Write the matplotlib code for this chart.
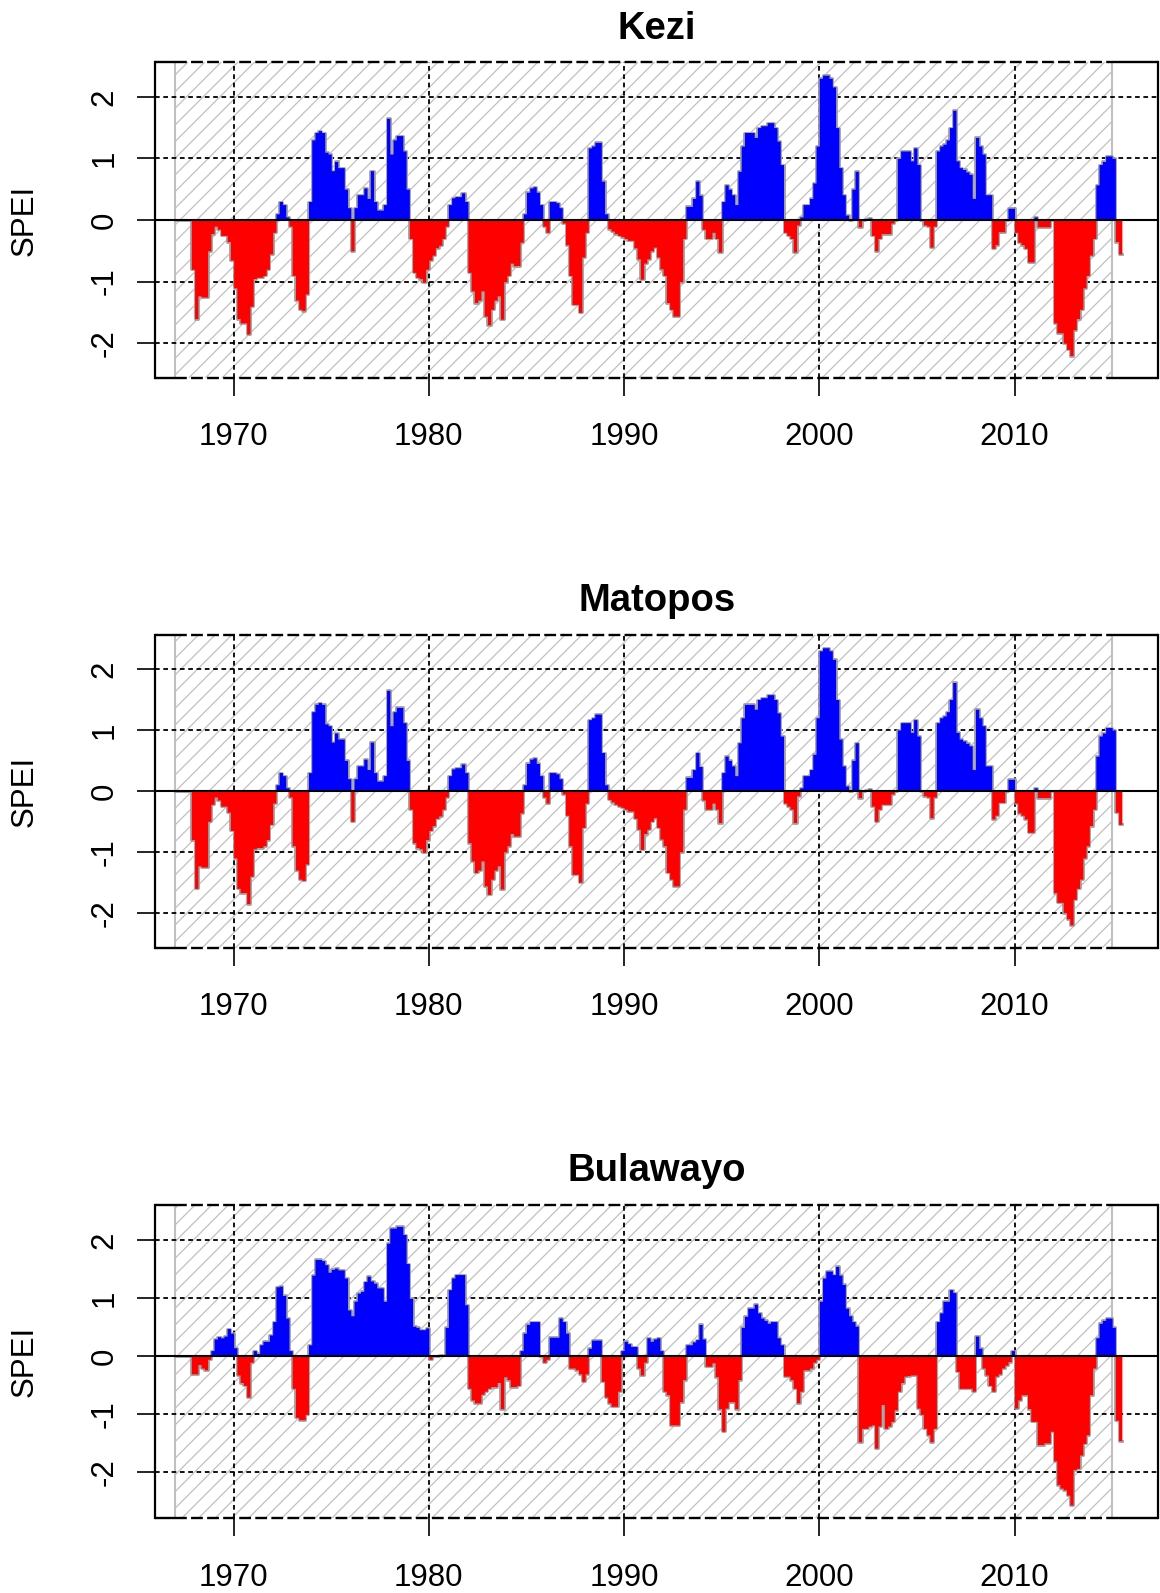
import numpy as np
import matplotlib
matplotlib.use('Agg')
import matplotlib.pyplot as plt
from matplotlib.patches import Rectangle

plt.rcParams['font.family'] = ['Liberation Sans', 'DejaVu Sans']
plt.rcParams['axes.unicode_minus'] = False
plt.rcParams['hatch.linewidth'] = 0.9

# SPEI, two-month steps starting Jan 1967
start_year = 1967
steps_per_year = 6
ref_period = (1967, 2015)

kezi = [
    0, 0, 0, 0, 0, -0.8,                            # 1967
    -1.6, -1.23, -1.25, -1.25, -0.5, -0.22,         # 1968
    -0.1, -0.15, -0.25, -0.25, -0.35, -0.65,        # 1969
    -1.1, -1.6, -1.67, -1.67, -1.85, -1.4,          # 1970
    -0.95, -0.93, -0.93, -0.9, -0.8, -0.55,         # 1971
    -0.2, 0.1, 0.3, 0.25, 0.05, -0.1,               # 1972
    -0.9, -1.3, -1.45, -1.47, -1.2, 0.3,            # 1973
    1.3, 1.42, 1.45, 1.42, 1.1, 1.07,               # 1974
    0.8, 0.95, 0.85, 0.85, 0.5, 0.2,                # 1975
    -0.5, 0.2, 0.41, 0.41, 0.52, 0.35,              # 1976
    0.8, 0.3, 0.16, 0.16, 0.25, 1.65,               # 1977
    1.07, 1.3, 1.37, 1.37, 1.12, 0.5,               # 1978
    -0.3, -0.85, -0.93, -0.95, -1.01, -0.8,         # 1979
    -0.65, -0.57, -0.45, -0.41, -0.3, -0.1,         # 1980
    0.25, 0.36, 0.38, 0.38, 0.44, 0.3,              # 1981
    -0.85, -1.15, -1.34, -1.3, -1.15, -1.56,        # 1982
    -1.7, -1.45, -1.3, -1.23, -1.61, -1.0,          # 1983
    -0.9, -0.7, -0.74, -0.74, -0.36, 0.1,           # 1984
    0.45, 0.52, 0.54, 0.45, 0.25, -0.1,             # 1985
    -0.2, 0.3, 0.3, 0.28, 0.2, -0.05,               # 1986
    -0.4, -0.9, -1.37, -1.37, -1.5, -0.6,           # 1987
    -0.2, 1.17, 1.2, 1.26, 1.26, 0.63,              # 1988
    0.1, -0.14, -0.18, -0.22, -0.25, -0.27,         # 1989
    -0.3, -0.33, -0.33, -0.45, -0.63, -0.96,        # 1990
    -0.7, -0.63, -0.5, -0.44, -0.6, -0.79,          # 1991
    -0.9, -1.34, -1.45, -1.56, -1.56, -1.0,         # 1992
    -0.3, 0.22, 0.22, 0.35, 0.63, 0.4,              # 1993
    -0.15, -0.3, -0.3, -0.2, -0.3, -0.52,           # 1994
    0.3, 0.57, 0.5, 0.41, 0.25, 0.79,               # 1995
    1.2, 1.42, 1.42, 1.42, 1.34, 1.5,               # 1996
    1.53, 1.53, 1.58, 1.58, 1.5, 1.28,              # 1997
    0.9, -0.2, -0.25, -0.3, -0.52, -0.08,           # 1998
    0.05, 0.25, 0.25, 0.35, 0.6, 1.2,               # 1999
    2.3, 2.35, 2.35, 2.3, 2.16, 1.5,                # 2000
    0.85, 0.41, 0.08, 0.0, 0.5, 0.79,               # 2001
    -0.11, 0.0, 0.02, 0.03, -0.25, -0.5,            # 2002
    -0.3, -0.22, -0.22, -0.22, -0.05, 0.0,          # 2003
    1.0, 1.12, 1.12, 1.12, 0.96, 1.17,              # 2004
    0.9, 0.0, -0.08, -0.1, -0.44, -0.1,             # 2005
    1.12, 1.2, 1.23, 1.3, 1.5, 1.78,                # 2006
    0.96, 0.85, 0.82, 0.78, 0.74, 0.35,             # 2007
    1.34, 1.2, 1.07, 0.41, 0.41, -0.46,             # 2008
    -0.4, -0.19, -0.19, 0.0, 0.19, 0.19,            # 2009
    -0.2, -0.36, -0.4, -0.46, -0.68, -0.68,         # 2010
    0.05, -0.11, -0.11, -0.11, -0.11, 0.0,          # 2011
    -1.67, -1.83, -1.83, -2.0, -2.1, -2.2,          # 2012
    -1.78, -1.6, -1.45, -1.1, -0.9, -0.57,          # 2013
    -0.3, 0.57, 0.9, 0.95, 1.04, 1.04,              # 2014
    1.0, -0.35, -0.55,                              # 2015
]

# Matopos panel reads the same as Kezi
matopos = list(kezi)

bulawayo = [
    0, 0, 0, 0, 0, -0.3,                            # 1967
    -0.3, -0.14, -0.2, -0.23, -0.05, 0.1,           # 1968
    0.3, 0.34, 0.32, 0.35, 0.48, 0.4,               # 1969
    0.15, -0.32, -0.45, -0.5, -0.7, -0.1,           # 1970
    0.1, 0.05, 0.2, 0.26, 0.26, 0.37,               # 1971
    0.6, 1.2, 1.21, 1.05, 0.66, 0.1,                # 1972
    -0.55, -1.05, -1.09, -1.09, -1.0, 0.2,          # 1973
    1.4, 1.67, 1.67, 1.65, 1.58, 1.45,              # 1974
    1.5, 1.52, 1.49, 1.49, 1.35, 0.8,               # 1975
    0.7, 0.95, 1.09, 1.12, 1.29, 1.38,              # 1976
    1.3, 1.26, 1.18, 1.18, 0.95, 1.95,              # 1977
    2.21, 2.21, 2.24, 2.24, 2.1, 1.6,               # 1978
    1.0, 0.52, 0.5, 0.46, 0.46, 0.49,               # 1979
    -0.05, 0.0, 0.0, 0.03, 0.02, 0.5,               # 1980
    1.15, 1.35, 1.41, 1.41, 1.41, 0.89,             # 1981
    -0.55, -0.75, -0.8, -0.8, -0.65, -0.6,          # 1982
    -0.55, -0.52, -0.52, -0.45, -0.9, -0.35,        # 1983
    -0.4, -0.52, -0.52, -0.5, 0.1, 0.4,             # 1984
    0.55, 0.6, 0.6, 0.6, 0.0, -0.1,                 # 1985
    -0.05, 0.33, 0.33, 0.33, 0.66, 0.6,             # 1986
    0.4, -0.2, -0.2, -0.23, -0.3, -0.43,            # 1987
    -0.3, 0.14, 0.28, 0.28, 0.28, -0.43,            # 1988
    -0.7, -0.8, -0.86, -0.86, -0.6, 0.1,            # 1989
    0.26, 0.22, 0.17, 0.17, -0.2, -0.32,            # 1990
    -0.1, 0.32, 0.26, 0.3, 0.32, 0.1,               # 1991
    -0.6, -0.66, -1.18, -1.18, -1.18, -0.78,        # 1992
    -0.4, 0.2, 0.2, 0.25, 0.29, 0.55,               # 1993
    0.3, -0.17, -0.17, -0.11, -0.35, -0.9,          # 1994
    -1.29, -0.89, -0.78, -0.78, -0.9, -0.4,         # 1995
    0.5, 0.69, 0.83, 0.83, 0.9, 0.75,               # 1996
    0.66, 0.62, 0.57, 0.6, 0.6, 0.32,               # 1997
    0.2, -0.34, -0.34, -0.4, -0.55, -0.8,           # 1998
    -0.6, -0.23, -0.23, -0.2, -0.1, -0.05,          # 1999
    0.95, 1.35, 1.47, 1.47, 1.41, 1.55,             # 2000
    1.4, 1.24, 0.83, 0.7, 0.6, 0.52,                # 2001
    -1.47, -1.24, -1.24, -1.2, -1.18, -1.58,        # 2002
    -1.2, -0.83, -1.24, -1.2, -1.12, -0.92,         # 2003
    -0.6, -0.45, -0.34, -0.33, -0.32, -0.32,        # 2004
    -0.89, -1.0, -1.24, -1.35, -1.47, -1.24,        # 2005
    0.6, 0.75, 0.95, 0.95, 1.15, 1.1,               # 2006
    -0.26, -0.55, -0.55, -0.55, -0.55, -0.6,        # 2007
    0.35, 0.14, -0.2, -0.32, -0.5, -0.6,            # 2008
    -0.34, -0.3, -0.2, -0.15, -0.09, 0.1,           # 2009
    -0.89, -0.75, -0.66, -0.66, -0.9, -1.12,        # 2010
    -1.12, -1.52, -1.52, -1.49, -1.49, -1.29,       # 2011
    -1.8, -2.21, -2.27, -2.3, -2.39, -2.56,         # 2012
    -1.95, -1.93, -1.7, -1.5, -1.35, -0.66,         # 2013
    -0.2, 0.32, 0.57, 0.62, 0.66, 0.66,             # 2014
    0.5, -1.1, -1.45,                               # 2015
]

stations = ['Kezi', 'Matopos', 'Bulawayo']
series = [kezi, matopos, bulawayo]
ylims = [(-2.56, 2.56), (-2.58, 2.56), (-2.79, 2.61)]
xlim = (1965.97, 2017.37)
year_ticks = [1970, 1980, 1990, 2000, 2010]
spei_ticks = [-2, -1, 0, 1, 2]

fig = plt.figure(figsize=(11.6, 15.93), dpi=100)
bottoms = [0.7629, 0.4049, 0.0469]
heights = [0.1980, 0.1965, 0.1967]

for name, vals, yl, b, h in zip(stations, series, ylims, bottoms, heights):
    ax = fig.add_axes([0.1336, b, 0.8650, h])
    v = np.array(vals, dtype=float)
    x = start_year + np.arange(len(v) + 1) / steps_per_year
    ve = np.append(v, v[-1])

    # reference period hatch
    ax.add_patch(Rectangle((ref_period[0], -10), ref_period[1] - ref_period[0], 20,
                           facecolor='none', edgecolor='#c0c0c0', hatch='//',
                           lw=1.5, zorder=0.2))

    for yv in spei_ticks:
        if yv != 0:
            ax.axhline(yv, color='black', lw=1.3, ls=(0, (2.6, 2.0)), zorder=0.6)
    for xv in year_ticks:
        ax.axvline(xv, color='black', lw=1.3, ls=(0, (2.6, 2.0)), zorder=0.6)

    ax.step(x, ve, where='post', color='#a0a0a0', lw=2.0, zorder=2)
    ax.fill_between(x, np.maximum(ve, 0), 0, step='post', color='#0000ff', lw=0, zorder=3)
    ax.fill_between(x, np.minimum(ve, 0), 0, step='post', color='#ff0000', lw=0, zorder=3)
    ax.axhline(0, color='black', lw=1.5, zorder=4)

    ax.set_xlim(*xlim)
    ax.set_ylim(*yl)

    # box: solid outside the reference period, dashed over it
    for s in ['left', 'right']:
        ax.spines[s].set_linewidth(1.6)
    for s in ['top', 'bottom']:
        ax.spines[s].set_visible(False)
    tr = ax.get_xaxis_transform()
    ax.hlines([0, 1], ref_period[0], ref_period[1], transform=tr, color='black',
              lw=1.7, linestyles=[(0, (5, 1.8))], clip_on=False, zorder=5)
    ax.hlines([0, 1], xlim[0], ref_period[0], transform=tr, color='black',
              lw=1.7, clip_on=False, zorder=5)
    ax.hlines([0, 1], ref_period[1], xlim[1], transform=tr, color='black',
              lw=1.7, clip_on=False, zorder=5)

    ax.set_xticks(year_ticks)
    ax.set_yticks(spei_ticks)
    ax.set_xticklabels([str(t) for t in year_ticks])
    ax.set_yticklabels([str(t) for t in spei_ticks])
    ax.tick_params(axis='both', direction='out', length=13, width=1.2, labelsize=22.5)
    ax.tick_params(axis='x', pad=19)
    ax.tick_params(axis='y', pad=12.5)
    plt.setp(ax.get_yticklabels(), rotation=90, va='center')

    ax.set_title(name, fontsize=27.5, fontweight='bold', pad=17)
    ax.set_ylabel('SPEI', fontsize=22.5)
    ax.yaxis.label.set_va('center')
    ax.yaxis.set_label_coords(-0.1295, 0.5)

fig.savefig('out.png', dpi=100)
